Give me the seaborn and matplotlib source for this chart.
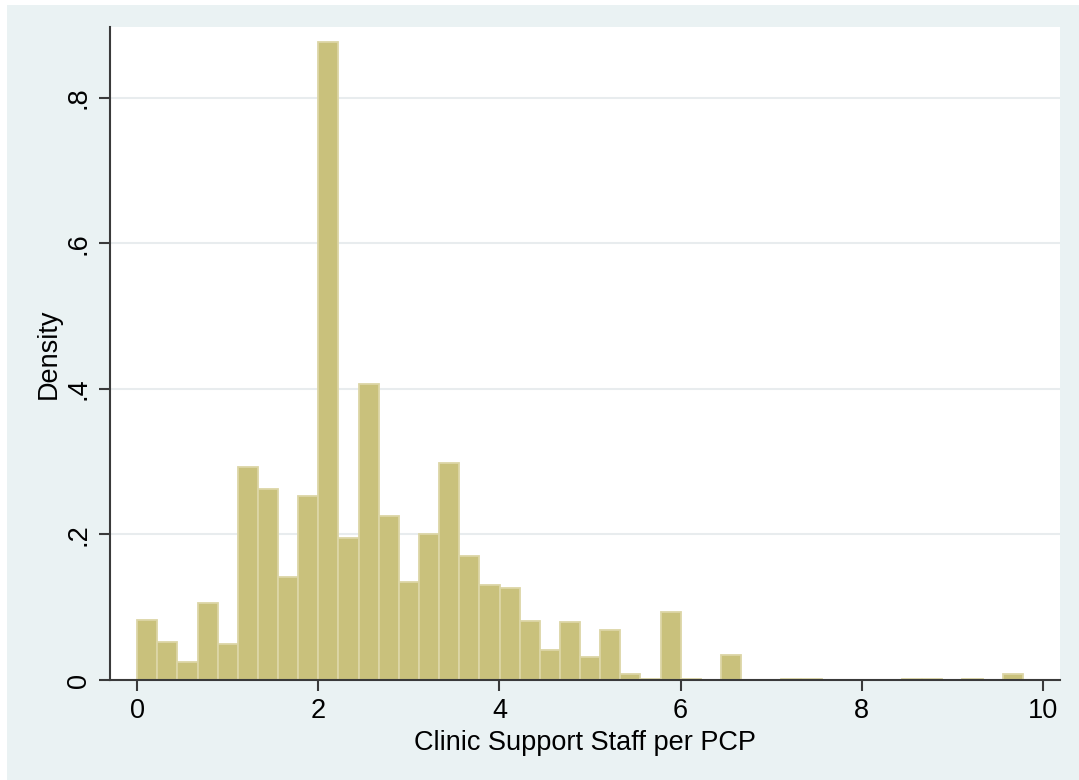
import numpy as np
import pandas as pd
import matplotlib
matplotlib.use("Agg")
import matplotlib.pyplot as plt
import seaborn as sns

# Histogram bins: 44 equal-width bins from 0 to 9.78
bin_start = 0.0
bin_stop = 9.78
n_bins = 44

# Density for each bin (left to right)
density = [
    0.083, 0.052, 0.025, 0.106, 0.049, 0.293, 0.263, 0.142, 0.253, 0.876,
    0.195, 0.406, 0.225, 0.134, 0.201, 0.298, 0.170, 0.130, 0.126, 0.081,
    0.041, 0.079, 0.032, 0.069, 0.008, 0.002, 0.093, 0.002, 0.000, 0.034,
    0.000, 0.000, 0.002, 0.002, 0.000, 0.000, 0.000, 0.000, 0.002, 0.002,
    0.000, 0.002, 0.000, 0.008,
]

x_ticks = [0, 2, 4, 6, 8, 10]
y_ticks = [0, 0.2, 0.4, 0.6, 0.8]
y_tick_labels = ["0", ".2", ".4", ".6", ".8"]
x_label = "Clinic Support Staff per PCP"
y_label = "Density"

edges = [float(e) for e in np.linspace(bin_start, bin_stop, n_bins + 1)]
centers = [(a + b) / 2 for a, b in zip(edges[:-1], edges[1:])]
df = pd.DataFrame({"staff": centers, "density": density})

sns.set_theme(style="white")
plt.rcParams["font.family"] = ["Liberation Sans", "DejaVu Sans"]

W, H = 1079, 780
fig = plt.figure(figsize=(W / 100, H / 100), dpi=100)
fig.patch.set_facecolor("white")

# light blue graph region behind the plot area
bg = fig.add_axes([7 / W, 0, 1 - 7 / W, 1 - 5 / H], zorder=-10)
bg.set_facecolor("#EAF2F3")
bg.set_xticks([])
bg.set_yticks([])
for s in bg.spines.values():
    s.set_visible(False)

ax = fig.add_axes([110 / W, (H - 680) / H, (1060 - 110) / W, (680 - 27) / H])
ax.set_facecolor("white")

sns.histplot(data=df, x="staff", weights="density", bins=edges, stat="count",
             color="#C9C17C", edgecolor="#DCD6A6", linewidth=1.3,
             alpha=1.0, ax=ax)

ax.set_xlim(-0.30, 10.19)
ax.set_ylim(0, 0.897)

ax.set_yticks(y_ticks)
ax.set_yticklabels(y_tick_labels, rotation=90, va="center")
ax.set_xticks(x_ticks)
ax.set_xticklabels([str(t) for t in x_ticks])

ax.grid(axis="y", color="#E8ECEE", linewidth=1.5)
ax.set_axisbelow(True)
for side in ("top", "right"):
    ax.spines[side].set_visible(False)
for side in ("left", "bottom"):
    ax.spines[side].set_color("#3A3A3A")
    ax.spines[side].set_linewidth(1.5)

ax.tick_params(axis="both", which="major", direction="out", length=8,
               width=1.5, color="#3A3A3A", labelsize=19.5, labelcolor="black",
               bottom=True, left=True, pad=5)

ax.set_xlabel(x_label, fontsize=19.5, color="black", labelpad=4)
ax.set_ylabel(y_label, fontsize=19.5, color="black", labelpad=3)

fig.savefig("out.png", dpi=100, facecolor=fig.get_facecolor())
